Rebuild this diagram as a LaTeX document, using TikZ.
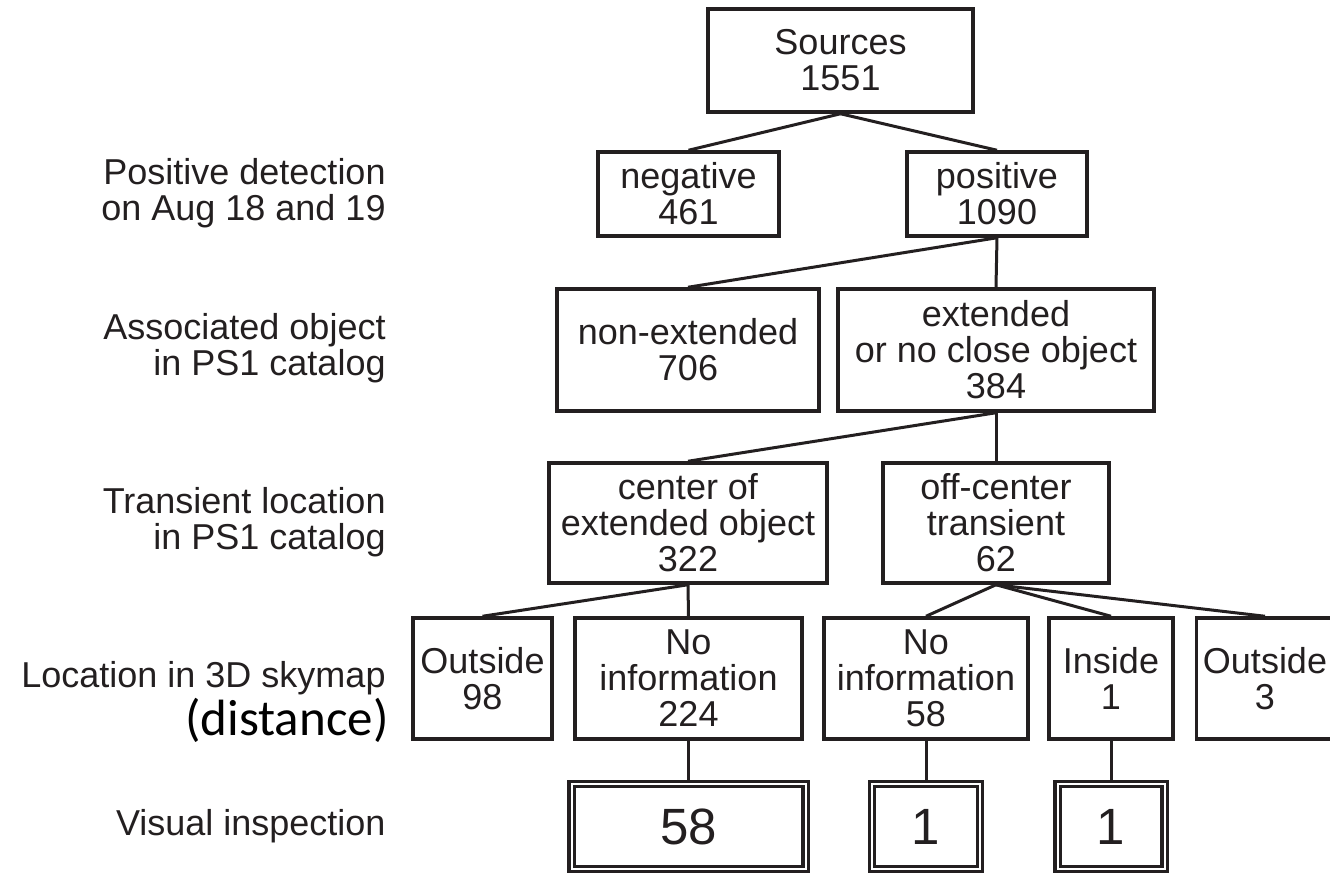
\documentclass[tikz,border=0pt]{standalone}
\usepackage{fontspec}
\setmainfont{Liberation Sans}
\newfontfamily\calibri{Carlito}
\definecolor{ink}{RGB}{35,31,32}
\begin{document}
\begin{tikzpicture}[x=0.5pt,y=-0.5pt,
  box/.style={draw=ink, line width=1.75pt, text=ink, align=center, inner sep=0pt, font=\fontsize{18}{18}\selectfont},
  dbox/.style={draw=ink, line width=1.6pt, double=white, double distance=1pt, text=ink, inner sep=0pt, font=\fontsize{25.5}{26}\selectfont},
  lbl/.style={align=right, text=ink, inner sep=0pt, font=\fontsize{18}{18}\selectfont},
  link/.style={draw=ink, line width=1.5pt}]
\clip (0,0) rectangle (1330,874);
% boxes
\node[box, minimum width=132.5pt, minimum height=51.5pt] (src) at (840.5,60.5) {Sources\\1551};
\node[box, minimum width=90.5pt, minimum height=42pt] (neg) at (688.5,194) {negative\\461};
\node[box, minimum width=90pt, minimum height=42pt] (pos) at (997,194) {positive\\1090};
\node[box, minimum width=131pt, minimum height=61pt] (nonext) at (688,350) {non-extended\\706};
\node[box, minimum width=158pt, minimum height=61pt] (ext) at (996,350) {extended\\or no close object\\384};
\node[box, minimum width=139pt, minimum height=60pt] (cen) at (688,523) {center of\\extended object\\322};
\node[box, minimum width=113pt, minimum height=60pt] (off) at (996,523) {off-center\\transient\\62};
\node[box, minimum width=69.5pt, minimum height=60.5pt] (o98) at (482.5,678.5) {Outside\\98};
\node[box, minimum width=113.5pt, minimum height=60.5pt] (ni224) at (688.5,678.5) {No\\information\\224};
\node[box, minimum width=102pt, minimum height=60.5pt] (ni58) at (926,678.5) {No\\information\\58};
\node[box, minimum width=62pt, minimum height=60.5pt] (in1) at (1111,678.5) {Inside\\1};
\node[box, minimum width=68.5pt, minimum height=60.5pt] (o3) at (1265,678.5) {Outside\\3};
\node[dbox, minimum width=117pt, minimum height=42.5pt] (v58) at (688.5,826.5) {58};
\node[dbox, minimum width=54pt, minimum height=42.5pt] (v1a) at (926,826.5) {1};
\node[dbox, minimum width=53.5pt, minimum height=42.5pt] (v1b) at (1111,826.5) {1};
% row labels
\node[lbl, anchor=east] (l1) at (386,193) {Positive detection\\on Aug 18 and 19};
\node[lbl, anchor=east] (l2) at (386,348) {Associated object\\in PS1 catalog};
\node[lbl, anchor=east] (l3) at (386,522) {Transient location\\in PS1 catalog};
\node[lbl, anchor=base east] (l4) at (386,687) {Location in 3D skymap};
\node[anchor=base east, inner sep=0pt, text=black, font=\calibri\fontsize{25.5}{26}\selectfont] (l5) at (389,735) {(distance)};
\node[lbl, anchor=east] (l6) at (386,826) {Visual inspection};
% connectors
\draw[link] (src.south) -- (neg.north);
\draw[link] (src.south) -- (pos.north);
\draw[link] (pos.south) -- (nonext.north);
\draw[link] (pos.south) -- (ext.north);
\draw[link] (ext.south) -- (cen.north);
\draw[link] (ext.south) -- (off.north);
\draw[link] (cen.south) -- (o98.north);
\draw[link] (cen.south) -- (ni224.north);
\draw[link] (off.south) -- (ni58.north);
\draw[link] (off.south) -- (in1.north);
\draw[link] (off.south) -- (o3.north);
\draw[link] (ni224.south) -- (v58.north);
\draw[link] (ni58.south) -- (v1a.north);
\draw[link] (in1.south) -- (v1b.north);
\end{tikzpicture}
\end{document}
